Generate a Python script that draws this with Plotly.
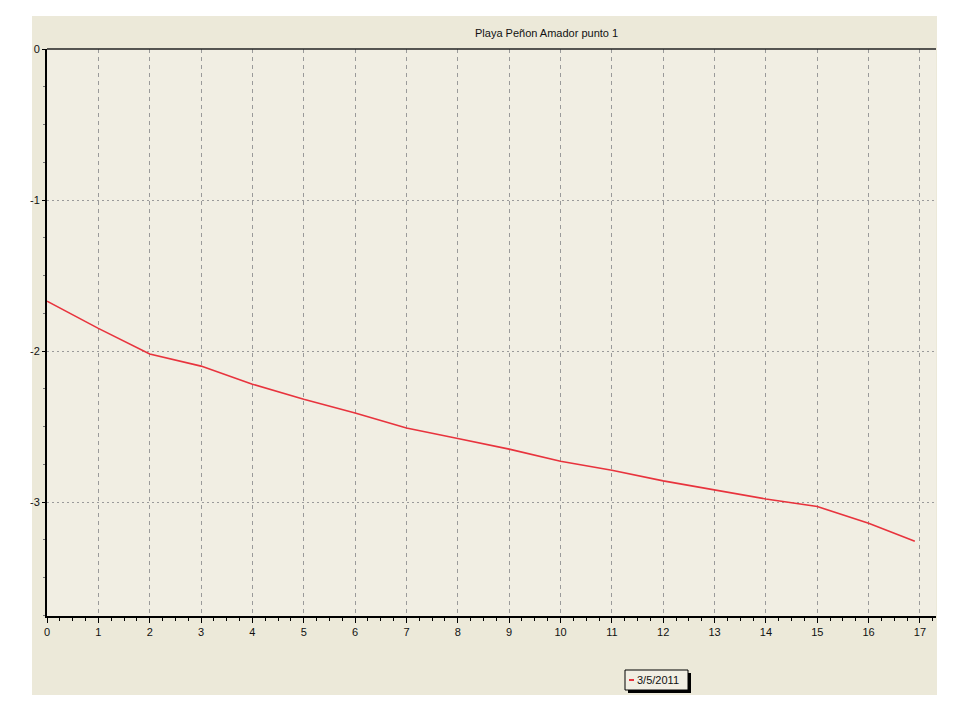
import plotly.graph_objects as go

title = "Playa Peñon Amador punto 1"
series_name = "3/5/2011"
distance = [0, 1, 2, 3, 4, 5, 6, 7, 8, 9, 10, 11, 12, 13, 14, 15, 16, 16.9]
depth = [-1.67, -1.85, -2.02, -2.10, -2.22, -2.32, -2.41, -2.51, -2.58, -2.65,
         -2.73, -2.79, -2.86, -2.92, -2.98, -3.03, -3.14, -3.26]
x_ticks = list(range(0, 18))
y_ticks = [0, -1, -2, -3]

FONT = "Liberation Sans Narrow, Arial Narrow, Liberation Sans, Arial, sans-serif"
PANEL = "#ECE9D9"
PLOTBG = "#F1EEE3"

OFF = 8  # page body margin
L, R, T, B = 47 - OFF, 936 - OFF, 49 - OFF, 616 - OFF
W, H = 960, 720
pw, ph = R - L, B - T

def px(x):
    return (x - OFF - L) / pw

def py(y):
    return (B - (y - OFF)) / ph

fig = go.Figure()
fig.add_trace(go.Scatter(x=distance, y=depth, mode="lines", name=series_name,
                         line=dict(color="#E8333D", width=1.6), showlegend=False))

shapes = [
    dict(type="rect", xref="paper", yref="paper", x0=px(32), x1=px(937), y0=py(695), y1=py(16),
         fillcolor=PANEL, line=dict(width=0), layer="below"),
    dict(type="rect", xref="paper", yref="paper", x0=0, x1=1, y0=0, y1=1,
         fillcolor=PLOTBG, line=dict(width=0), layer="below"),
    dict(type="line", xref="paper", yref="paper", x0=0, x1=1, y0=1, y1=1,
         line=dict(color="#222222", width=1.5)),
    dict(type="rect", xref="paper", yref="paper", x0=px(628), x1=px(691), y0=py(693), y1=py(673),
         fillcolor="#000000", line=dict(width=0)),
    dict(type="rect", xref="paper", yref="paper", x0=px(625), x1=px(688), y0=py(690), y1=py(670),
         fillcolor=PLOTBG, line=dict(color="#000000", width=1)),
    dict(type="line", xref="paper", yref="paper", x0=px(629), x1=px(634), y0=py(680), y1=py(680),
         line=dict(color="#E8333D", width=2)),
]

annotations = [
    dict(text=title, xref="paper", yref="paper", x=px(546), y=py(33), showarrow=False,
         font=dict(family=FONT, size=11, color="#111111"), xanchor="center", yanchor="middle"),
    dict(text=series_name, xref="paper", yref="paper", x=px(635), y=py(680), showarrow=False,
         font=dict(family=FONT, size=11, color="#111111"), xanchor="left", yanchor="middle"),
]

fig.update_layout(
    width=W, height=H,
    margin=dict(l=L, r=W - R, t=T, b=H - B),
    paper_bgcolor="white",
    plot_bgcolor="rgba(0,0,0,0)",
    shapes=shapes,
    annotations=annotations,
    showlegend=False,
    font=dict(family=FONT, size=11, color="#111111"),
)

fig.update_xaxes(
    range=[0, (R - L) / 51.35], tickvals=x_ticks, ticktext=[str(v) for v in x_ticks],
    showline=True, linecolor="black", linewidth=2,
    ticks="outside", ticklen=5, tickcolor="black", tickwidth=1,
    minor=dict(dtick=0.25, ticks="outside", ticklen=3, tickcolor="black", showgrid=False),
    showgrid=True, gridcolor="#9A9A9A", gridwidth=1, griddash="4px,4px",
    zeroline=False, tickfont=dict(family=FONT, size=11),
)
fig.update_yaxes(
    range=[-(B - T) / 151.0, 0], tickvals=y_ticks, ticktext=[str(v) for v in y_ticks],
    showline=True, linecolor="black", linewidth=2,
    ticks="outside", ticklen=3, tickcolor="black", tickwidth=1,
    minor=dict(dtick=0.25, ticks="outside", ticklen=2, tickcolor="#777777", showgrid=False),
    showgrid=True, gridcolor="#9A9A9A", gridwidth=1, griddash="2px,3px",
    zeroline=False, tickfont=dict(family=FONT, size=11),
)

fig.write_html("out.html")
